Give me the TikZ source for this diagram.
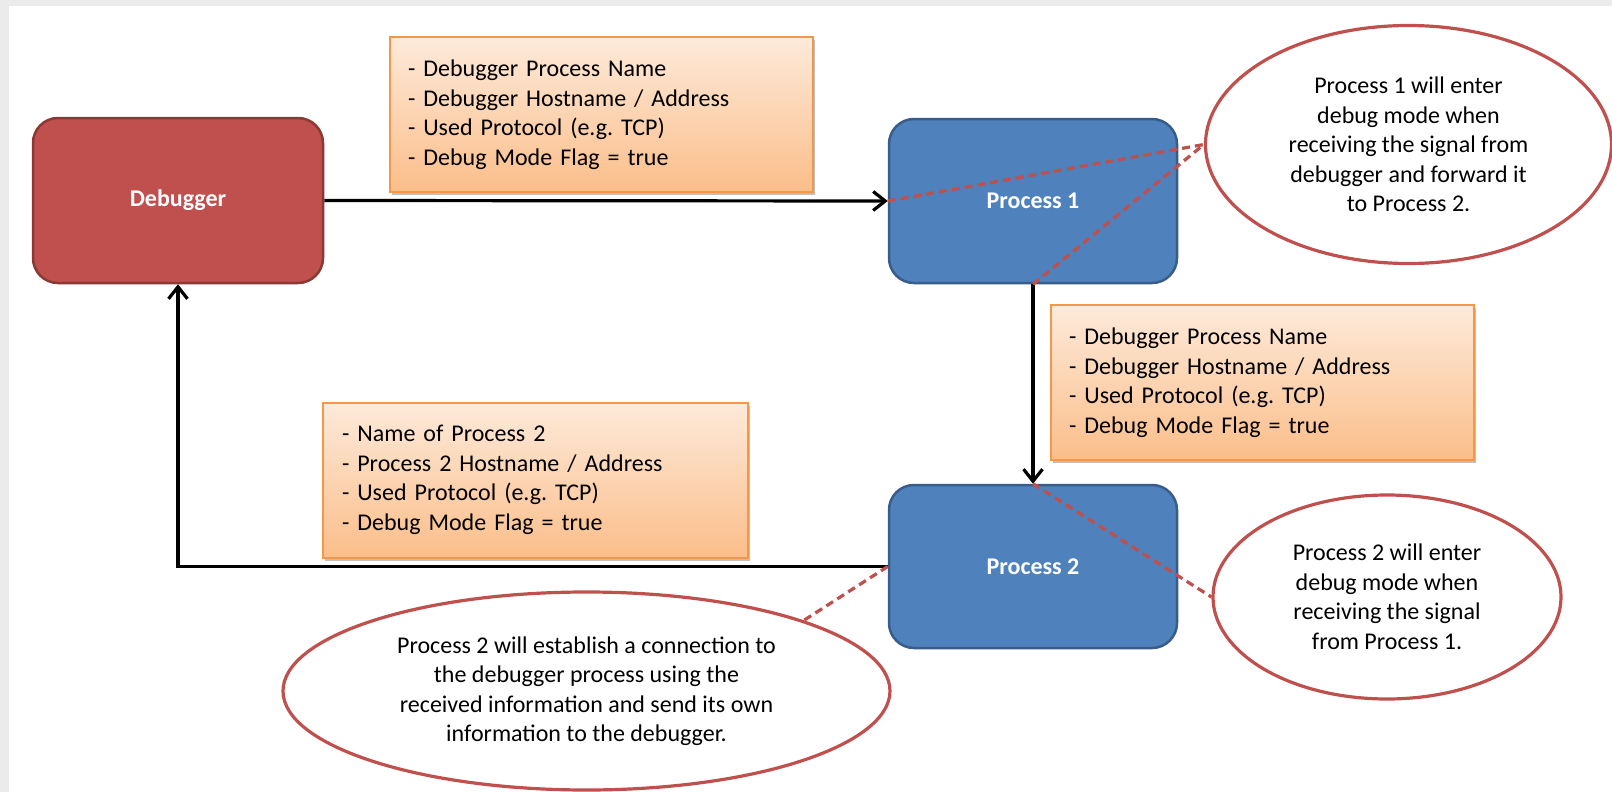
\documentclass[tikz,border=0pt]{standalone}
\usepackage{fontspec}
\setmainfont{Carlito}
\usetikzlibrary{arrows.meta,shapes.geometric,shadows}

\definecolor{dbgred}{HTML}{C0504D}
\definecolor{dbgredline}{HTML}{8C3836}
\definecolor{procblue}{HTML}{4F81BD}
\definecolor{procline}{HTML}{385D8A}
\definecolor{infotop}{HTML}{FDEADA}
\definecolor{infobot}{HTML}{FBBE8A}
\definecolor{infoline}{HTML}{F79646}
\definecolor{pageframe}{HTML}{EBEBEB}

\begin{document}
\frenchspacing
\begin{tikzpicture}[x=1pt,y=-1pt,
  font=\fontsize{24}{29.5}\selectfont,
  block/.style={rounded corners=25pt, line width=2.5pt, minimum width=288pt,
    minimum height=164pt, inner sep=0pt, text=white, font=\fontsize{24}{29.5}\selectfont\bfseries},
  debugbox/.style={block, fill=dbgred, draw=dbgredline},
  procbox/.style={block, fill=procblue, draw=procline},
  infobox/.style={draw=infoline, line width=2pt, top color=infotop,
    bottom color=infobot, minimum width=423pt, minimum height=155pt,
    inner xsep=18pt, inner ysep=0pt, text width=387pt, align=left,
    drop shadow={shadow xshift=2pt, shadow yshift=-3pt, opacity=0.25, fill=black}},
  note/.style={ellipse, draw=dbgred, line width=3.2pt, fill=white,
    inner sep=0pt, align=center},
  flow/.style={draw=black, line width=3.2pt,
    -{Straight Barb[length=12pt,width=19pt]}},
  hint/.style={draw=dbgred, line width=3.2pt, dash pattern=on 8pt off 5pt},
]
% page background
\fill[pageframe] (0,0) rectangle (1612,792);
\fill[white] (9,6) rectangle (1612,792);
\useasboundingbox (0,0) rectangle (1612,792);

% processes
\node[debugbox, minimum width=290pt, minimum height=165pt] (dbg) at (178,200.5) {Debugger};
\node[procbox] (p1) at (1033,201) {Process 1};
\node[procbox, minimum height=163pt] (p2) at (1033,566.5) {Process 2};

% transmitted information
\node[infobox] (i1) at (601.5,114.5) {- Debugger Process Name\\- Debugger Hostname / Address\\- Used Protocol (e.g. TCP)\\- Debug Mode Flag = true};
\node[infobox] (i2) at (1262.5,382.5) {- Debugger Process Name\\- Debugger Hostname / Address\\- Used Protocol (e.g. TCP)\\- Debug Mode Flag = true};
\node[infobox, minimum width=425pt] (i3) at (535.5,480) {- Name of Process 2\\- Process 2 Hostname / Address\\- Used Protocol (e.g. TCP)\\- Debug Mode Flag = true};

% message flow
\draw[flow] (dbg.east) -- (p1.west);
\draw[flow] (p1.south) -- (p2.north);
\draw[flow] (p2.west) -| (dbg.south);

% explanations
\node[note, minimum width=406pt, minimum height=238pt] (e1) at (1408.5,144.5)
  {Process 1 will enter\\debug mode when\\receiving the signal from\\debugger and forward it\\to Process 2.};
\node[note, minimum width=348pt, minimum height=204pt] (e2) at (1387,597)
  {Process 2 will enter\\debug mode when\\receiving the signal\\from Process 1.};
\node[note, minimum width=607pt, minimum height=198pt] (e3) at (586.5,691)
  {Process 2 will establish a connection to\\the debugger process using the\\received information and send its own\\information to the debugger.};

\draw[hint] (p1.west) -- (e1.west);
\draw[hint] (p1.south) -- (e1.west);
\draw[hint] (p2.north) -- (e2.west);
\draw[hint] (p2.west) -- (e3.18);
\end{tikzpicture}
\end{document}
